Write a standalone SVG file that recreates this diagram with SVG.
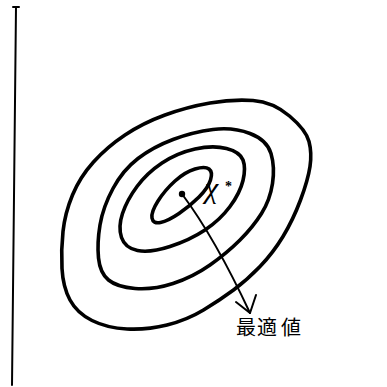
<svg xmlns="http://www.w3.org/2000/svg" width="387" height="387" viewBox="0 0 387 387">
<style>
.contour{fill:none;stroke:#000;stroke-width:3.6;stroke-linejoin:round}
.line{fill:none;stroke:#000;stroke-width:2;stroke-linecap:round;stroke-linejoin:round}
.lbl{font-family:"Liberation Serif","Noto Sans CJK JP",serif;fill:#000}
</style>
<rect width="387" height="387" fill="#fff"/>
<g id="axis">
<path class="line" d="M16 7 L12 385"/>
<path class="line" d="M13 7 L19 7"/>
</g>
<g id="contour1">
<path class="contour" d="M289.5 116 Q273 102 253 100.5 Q233 99 210 103 Q187 107 165 115 Q143 123 125 135 Q107 147 93.5 162 Q80 177 72.5 195 Q65 213 63 231.5 Q61 250 62 268.5 Q63 287 70 300 Q77 313 92 320.5 Q107 328 127 329 Q147 330 167 325 Q187 320 203.5 310 Q220 300 233.5 290 Q247 280 260 266.5 Q273 253 283 236.5 Q293 220 300.5 200 Q308 180 310 166.5 Q312 153 309 141.5 Q306 130 289.5 116 Z"/>
</g>
<g id="contour2">
<path class="contour" d="M250 133.5 Q267 140 271 153.5 Q275 167 272.5 183.5 Q270 200 261.5 213.5 Q253 227 240 240 Q227 253 210 265 Q193 277 173 283.5 Q153 290 135 288.5 Q117 287 108.5 280 Q100 273 98.5 258 Q97 243 100 225 Q103 207 113 188.5 Q123 170 138 158.5 Q153 147 173 139.5 Q193 132 213 129.5 Q233 127 250 133.5 Z"/>
</g>
<g id="contour3">
<path class="contour" d="M226.5 148.5 Q240 152 243 160 Q246 168 243 180.5 Q240 193 230 206.5 Q220 220 205 230 Q190 240 170 246.5 Q150 253 137.5 250.5 Q125 248 121.5 237.5 Q118 227 122.5 213.5 Q127 200 137 186.5 Q147 173 162 163 Q177 153 195 149 Q213 145 226.5 148.5 Z"/>
</g>
<g id="contour4">
<path class="contour" d="M209 169 Q213 172 210.5 180 Q208 188 199 197 Q190 206 179 213.5 Q168 221 160.5 222.5 Q153 224 152 218 Q151 212 158 201 Q165 190 175 181 Q185 172 195 169 Q205 166 209 169 Z"/>
</g>
<g id="optimum">
<circle cx="182" cy="194" r="3.2" fill="#000"/>
<text class="lbl" x="205" y="198" font-size="30" font-style="italic">χ</text>
<text class="lbl" x="225" y="191" font-size="14" font-weight="bold">*</text>
</g>
<g id="connectors">
<path class="line" d="M182 194 Q215 238 250 313"/>
<path class="line" d="M236 302 L250 313 L256 295"/>
</g>
<g id="label">
<text class="lbl" y="335" font-size="20"><tspan x="236">最</tspan><tspan x="257">適</tspan><tspan x="281">値</tspan></text>
</g>
</svg>
